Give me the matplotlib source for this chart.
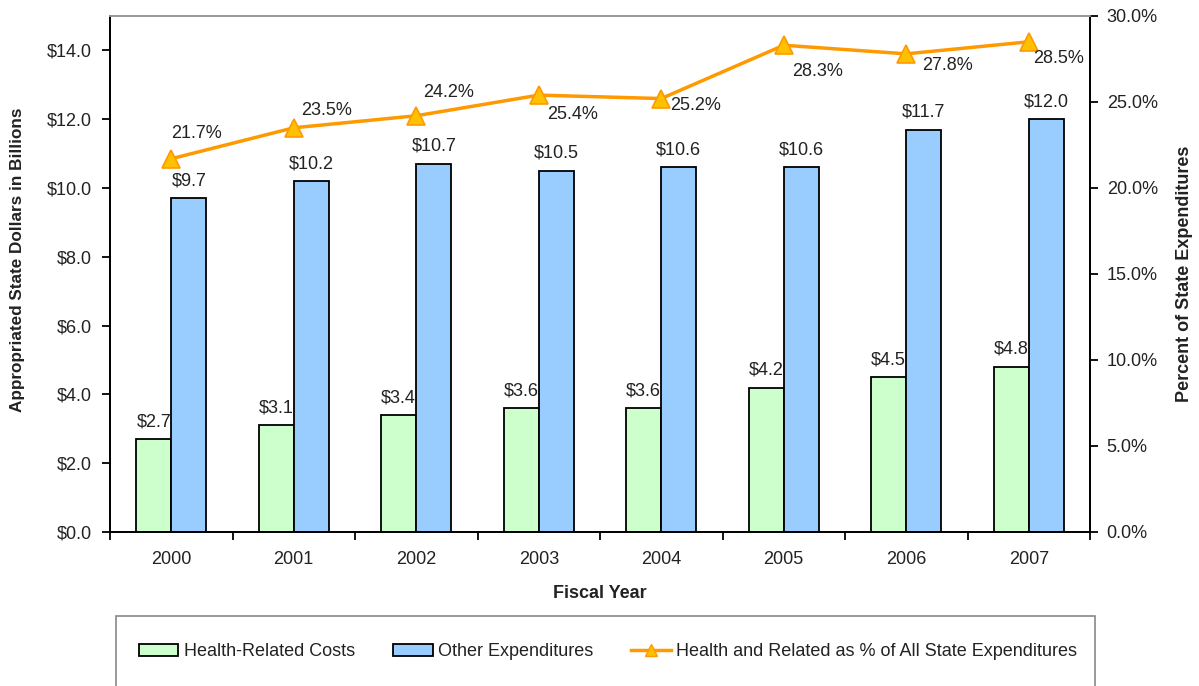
import matplotlib
matplotlib.use("Agg")
import matplotlib.pyplot as plt
import matplotlib.patches as patches
from matplotlib.lines import Line2D
from matplotlib.ticker import FuncFormatter, MultipleLocator
import numpy as np

plt.rcParams['font.family'] = ['Liberation Sans', 'DejaVu Sans']

years = ["2000", "2001", "2002", "2003", "2004", "2005", "2006", "2007"]
health_costs = [2.7, 3.1, 3.4, 3.6, 3.6, 4.2, 4.5, 4.8]
other_exp = [9.7, 10.2, 10.7, 10.5, 10.6, 10.6, 11.7, 12.0]
health_pct = [21.7, 23.5, 24.2, 25.4, 25.2, 28.3, 27.8, 28.5]

# label offsets (pixels) for the percent labels
pct_offsets = [(25, 25), (33, 17), (32, 23), (34, -19), (34, -7),
               (34, -26), (41, -12), (30, -17)]

green = '#CCFFCC'
blue = '#99CCFF'
orange = '#FF9900'
txt = '#222222'
fs = 13

fig = plt.figure(figsize=(11.99, 6.86), dpi=100)
ax = fig.add_axes([110 / 1199, 1 - 532 / 686, 980 / 1199, 516 / 686])
ax2 = ax.twinx()

x = np.arange(len(years))
w = 0.286
ax.bar(x - w / 2, health_costs, w, color=green, edgecolor='black', linewidth=1.3, zorder=2)
ax.bar(x + w / 2, other_exp, w, color=blue, edgecolor='black', linewidth=1.3, zorder=2)

for i in range(len(years)):
    ax.annotate(f"${health_costs[i]:.1f}", (x[i] - w / 2, health_costs[i]),
                xytext=(0, 9), textcoords='offset pixels', ha='center', va='bottom',
                fontsize=fs, color=txt)
    ax.annotate(f"${other_exp[i]:.1f}", (x[i] + w / 2, other_exp[i]),
                xytext=(0, 9), textcoords='offset pixels', ha='center', va='bottom',
                fontsize=fs, color=txt)

ax2.plot(x, health_pct, color=orange, linewidth=2.5, marker='^', markersize=13,
         markerfacecolor='#FFC000', markeredgecolor=orange, markeredgewidth=1.2, zorder=3)
for i in range(len(years)):
    dx, dy = pct_offsets[i]
    ax2.annotate(f"{health_pct[i]:.1f}%", (x[i], health_pct[i]), xytext=(dx, dy),
                 textcoords='offset pixels', ha='center', va='center',
                 fontsize=fs, color=txt)

ax.set_xlim(-0.5, len(years) - 0.5)
ax.set_ylim(0, 15)
ax2.set_ylim(0, 30)
ax.yaxis.set_major_locator(MultipleLocator(2))
ax2.yaxis.set_major_locator(MultipleLocator(5))
ax.yaxis.set_major_formatter(FuncFormatter(lambda v, p: f"${v:.1f}"))
ax2.yaxis.set_major_formatter(FuncFormatter(lambda v, p: f"{v:.1f}%"))

ax.set_xticks(x)
ax.set_xticklabels(years)
ax.set_xticks(np.arange(len(years) + 1) - 0.5, minor=True)
ax.tick_params(axis='x', which='major', length=0, pad=14, labelsize=fs, labelcolor=txt)
ax.tick_params(axis='x', which='minor', length=6, width=1.3, direction='out')
ax.tick_params(axis='y', length=6, width=1.3, labelsize=fs, labelcolor=txt, pad=7)
ax2.tick_params(axis='y', length=6, width=1.3, labelsize=fs, labelcolor=txt, pad=6)

for a in (ax, ax2):
    for s in ('left', 'right', 'bottom'):
        a.spines[s].set_linewidth(1.3)
        a.spines[s].set_color('black')
    a.spines['top'].set_color('#999999')
    a.spines['top'].set_linewidth(1.3)

ax.set_xlabel("Fiscal Year", fontsize=fs, fontweight='bold', labelpad=12, color=txt)
ax.set_ylabel("Appropriated State Dollars in Billions", fontsize=12.3, fontweight='bold',
              color=txt)
ax.yaxis.set_label_coords((25 - 110) / 980, (532 - 260) / 516)
ax2.set_ylabel("Percent of State Expenditures", fontsize=fs, fontweight='bold',
               labelpad=13, rotation=90, color=txt)

# legend box, running off the bottom edge like the original
box = patches.Rectangle((116 / 1199, -0.05), (1095 - 116) / 1199, 1 - 616 / 686 + 0.05,
                        transform=fig.transFigure, facecolor='white',
                        edgecolor='#888888', linewidth=1.2)
fig.patches.append(box)

handles = [
    patches.Patch(facecolor=green, edgecolor='black', linewidth=1.3),
    patches.Patch(facecolor=blue, edgecolor='black', linewidth=1.3),
    Line2D([], [], color=orange, linewidth=2.5, marker='^', markersize=9,
           markerfacecolor='#FFC000', markeredgecolor=orange),
]
labels = ["Health-Related Costs", "Other Expenditures",
          "Health and Related as % of All State Expenditures"]
fig.legend(handles, labels, loc='center', bbox_to_anchor=(608 / 1199, 1 - 652 / 686),
           ncol=3, frameon=False, fontsize=fs, handlelength=2.2, handleheight=0.6,
           handletextpad=0.3, columnspacing=2.1, labelcolor=txt)

fig.savefig("out.png", dpi=100)
